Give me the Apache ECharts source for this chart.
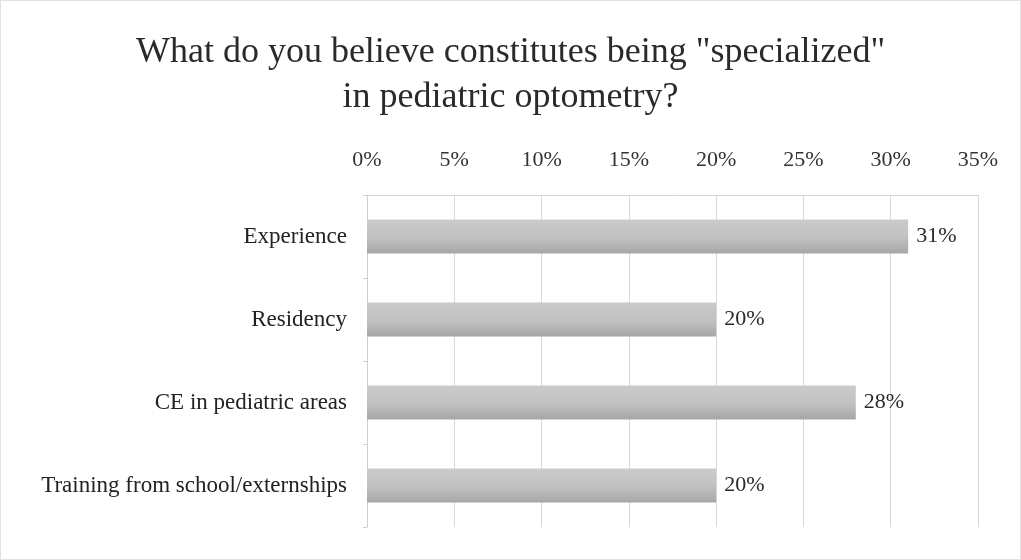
<!DOCTYPE html>
<html>
<head>
<meta charset="utf-8">
<script src="https://cdn.jsdelivr.net/npm/echarts@6/dist/echarts.min.js"></script>
<style>
  html, body { margin: 0; padding: 0; background: #fff; }
  #chart { width: 1021px; height: 560px; box-sizing: border-box; border: 1px solid #e2e2e2; }
</style>
</head>
<body>
<div id="chart"></div>
<script>
  // categories, top to bottom
  var categories = ['Experience', 'Residency', 'CE in pediatric areas', 'Training from school/externships'];
  var percentValues = [31, 20, 28, 20];
  var axisTicks = [0, 5, 10, 15, 20, 25, 30, 35];

  var myChart = echarts.init(document.getElementById('chart'));
  var serif = '"Liberation Serif", "DejaVu Serif", serif';

  var option = {
    animation: false,
    title: {
      text: 'What do you believe constitutes being "specialized"\nin pediatric optometry?',
      left: 'center',
      top: 24,
      textStyle: {
        fontFamily: serif,
        fontSize: 36,
        fontWeight: 'normal',
        color: '#2a2a2a',
        lineHeight: 45
      }
    },
    grid: {
      left: 366,
      right: 42,
      top: 194,
      bottom: 32
    },
    xAxis: {
      type: 'value',
      position: 'top',
      min: axisTicks[0],
      max: axisTicks[axisTicks.length - 1],
      interval: 5,
      axisLine: { show: true, lineStyle: { color: '#d4d4d4', width: 1 } },
      axisTick: { show: false },
      axisLabel: {
        margin: 24,
        fontFamily: serif,
        fontSize: 22,
        color: '#333',
        formatter: function (v) { return v + '%'; }
      },
      splitLine: { show: true, lineStyle: { color: '#d9d9d9', width: 1 } }
    },
    yAxis: {
      type: 'category',
      inverse: true,
      data: categories,
      axisLine: { show: true, lineStyle: { color: '#cfcfcf', width: 1 } },
      axisTick: { show: true, length: 4, lineStyle: { color: '#cfcfcf' } },
      axisLabel: {
        margin: 20,
        fontFamily: serif,
        fontSize: 23,
        color: '#222'
      }
    },
    series: [{
      type: 'bar',
      data: percentValues,
      barWidth: 34,
      itemStyle: {
        color: new echarts.graphic.LinearGradient(0, 0, 0, 1, [
          { offset: 0, color: '#cbcbcb' },
          { offset: 0.55, color: '#c0c0c0' },
          { offset: 1, color: '#a6a6a6' }
        ])
      },
      label: {
        show: true,
        position: 'right',
        distance: 8,
        fontFamily: serif,
        fontSize: 22,
        color: '#2a2a2a',
        formatter: '{c}%'
      }
    }]
  };

  myChart.setOption(option);
</script>
</body>
</html>
